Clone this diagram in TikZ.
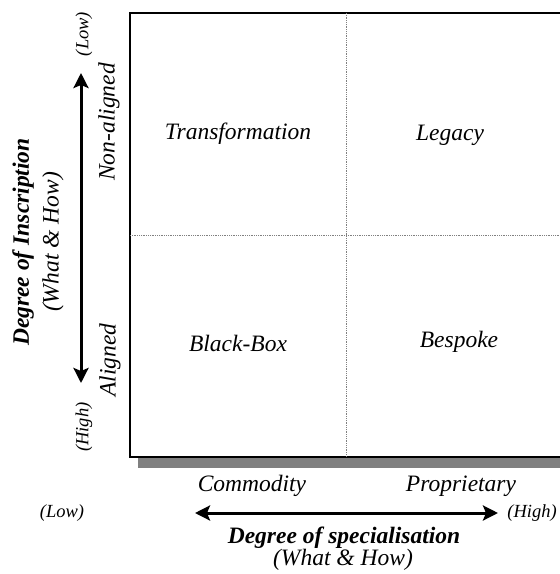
\documentclass[tikz,border=0pt]{standalone}
\usepackage{fontspec}
\setmainfont{Liberation Serif}
\usetikzlibrary{arrows.meta}

\begin{document}
\begin{tikzpicture}[x=1pt,y=-1pt,
  quad/.style={inner sep=0pt,font=\fontsize{23.5}{28}\selectfont\itshape},
  axis/.style={inner sep=0pt,font=\fontsize{23.5}{28}\selectfont\bfseries\itshape},
  ends/.style={inner sep=0pt,font=\fontsize{18.5}{22}\selectfont\itshape},
  divider/.style={gray,densely dotted,line width=0.8pt},
  dbl/.style={line width=3pt,{Stealth[length=15pt,width=15pt,inset=3pt]}-{Stealth[length=15pt,width=15pt,inset=3pt]}}]
  \clip (0,0) rectangle (560,574);
  \coordinate (tl) at (130,13);
  \coordinate (br) at (600,457);
  \coordinate (mt) at (346,13);
  \coordinate (mb) at (346,457);
  \coordinate (ml) at (130,235);
  \coordinate (mr) at (600,235);

  \fill[gray] (138,457) rectangle (600,468);
  \draw[line width=1.5pt,fill=white] (tl) rectangle (br);
  \draw[divider] (mt) -- (mb);
  \draw[divider] (ml) -- (mr);

  \node[quad] (trans)  at (238,134) {Transformation};
  \node[quad] (legacy) at (450,135) {Legacy};
  \node[quad] (bbox)   at (238,343) {Black-Box};
  \node[quad] (bspk)   at (459,342) {Bespoke};

  % horizontal axis
  \coordinate (h0) at (195,513);
  \coordinate (h1) at (498,513);
  \draw[dbl] (h0) -- (h1);
  \node[quad] (comm) at (252,486) {Commodity};
  \node[quad] (prop) at (461,486) {Proprietary};
  \node[ends] (hlow)  at (62,513) {(Low)};
  \node[ends] (hhigh) at (532,513) {(High)};
  \node[axis] (spec) at (344,538) {Degree of specialisation};
  \node[quad] (hwh)  at (343,560) {(What \& How)};

  % vertical axis
  \coordinate (v0) at (81,383);
  \coordinate (v1) at (81,73);
  \draw[dbl] (v0) -- (v1);
  \node[quad,rotate=90] (nonal) at (109,122) {Non-aligned};
  \node[quad,rotate=90] (algn)  at (110,360) {Aligned};
  \node[ends,rotate=90] (vlow)  at (84,34) {(Low)};
  \node[ends,rotate=90] (vhigh) at (84,427) {(High)};
  \node[axis,rotate=90] (inscr) at (23,242) {Degree of Inscription};
  \node[quad,rotate=90] (vwh)   at (53,242) {(What \& How)};
\end{tikzpicture}
\end{document}
